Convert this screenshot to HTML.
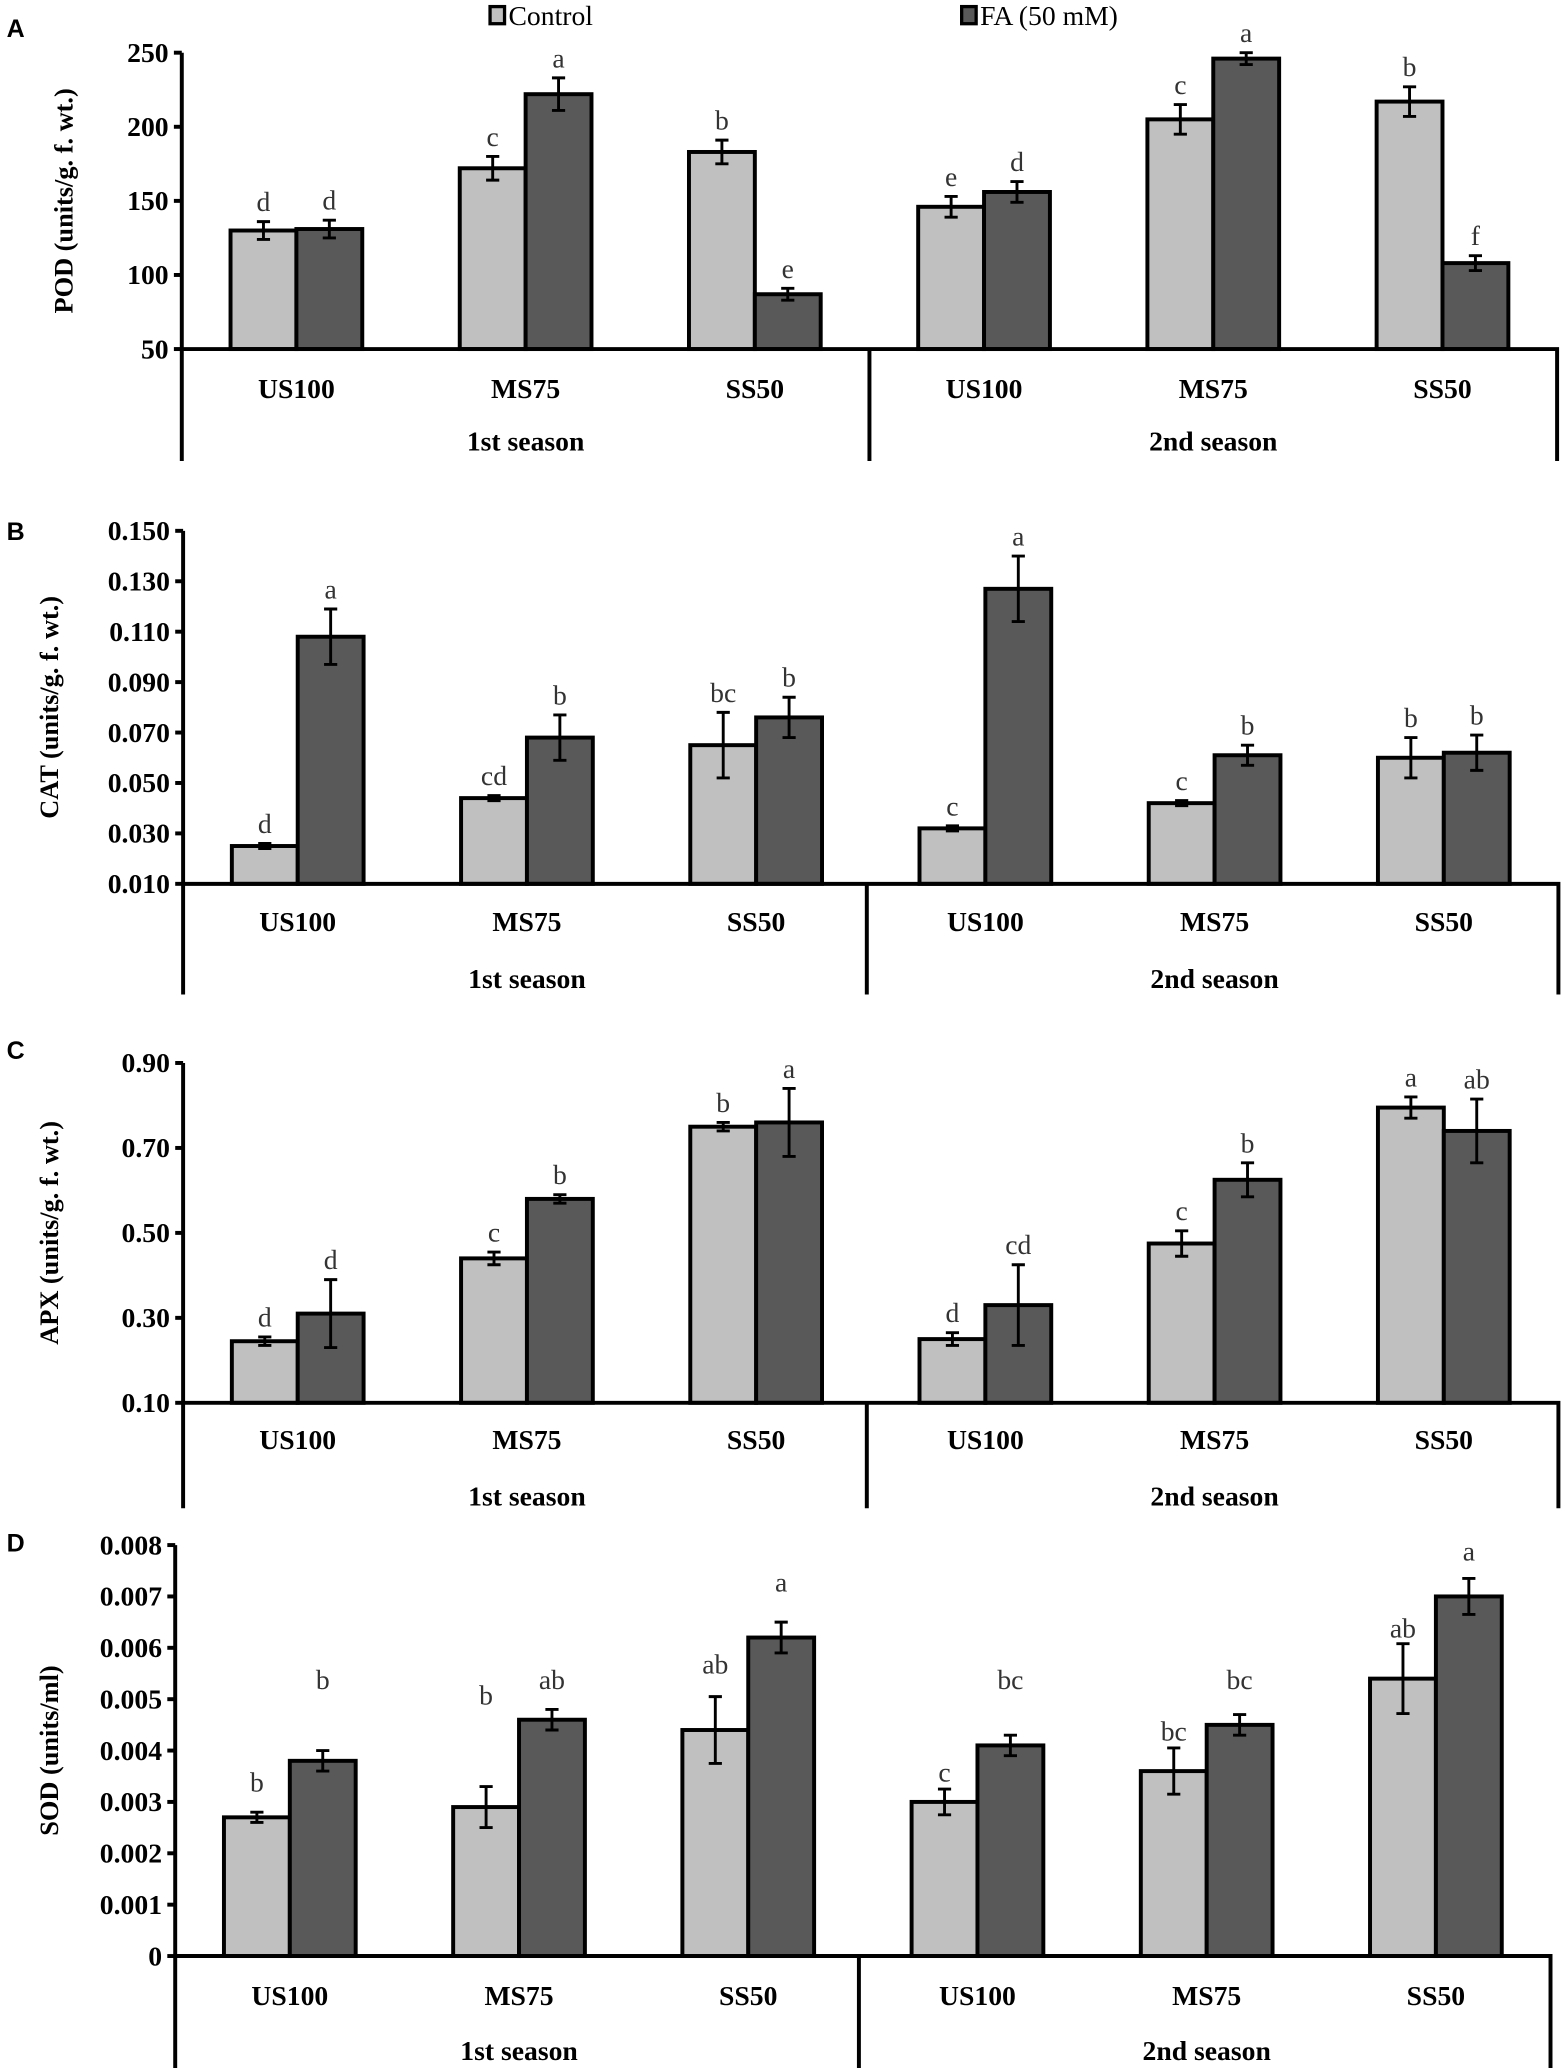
<!DOCTYPE html>
<html><head><meta charset="utf-8">
<style>
html,body{margin:0;padding:0;background:#fff;}
svg{display:block;}
text{font-family:"Liberation Serif",serif;}
</style></head>
<body>
<svg id="fig" width="1565" height="2068" viewBox="0 0 1188 1570" preserveAspectRatio="none" xmlns="http://www.w3.org/2000/svg">
<g>
  <rect x="372" y="5" width="11" height="13" fill="#c0c0c0" stroke="#000" stroke-width="2.5"/>
  <text x="386" y="19" font-size="21">Control</text>
  <rect x="730" y="5" width="11" height="13" fill="#595959" stroke="#000" stroke-width="2.5"/>
  <text x="744" y="19" font-size="21">FA (50 mM)</text>
</g>
</svg>
<script>
const categories = ["US100","MS75","SS50","US100","MS75","SS50"];
const seasons = ["1st season","2nd season"];

const podControl = [130,172,183,146,205,217];
const podFA = [131,222,87,156,246,108];
const podErrC = [6,8,8,7,10,10];
const podErrF = [6,11,4,7,4,5];
const podLetC = ["d","c","b","e","c","b"];
const podLetF = ["d","a","e","d","a","f"];
const podTicks = [50,100,150,200,250];

const catControl = [0.025,0.044,0.065,0.032,0.042,0.060];
const catFA = [0.108,0.068,0.076,0.127,0.061,0.062];
const catErrC = [0.001,0.001,0.013,0.001,0.001,0.008];
const catErrF = [0.011,0.009,0.008,0.013,0.004,0.007];
const catLetC = ["d","cd","bc","c","c","b"];
const catLetF = ["a","b","b","a","b","b"];
const catTicks = [0.010,0.030,0.050,0.070,0.090,0.110,0.130,0.150];

const apxControl = [0.245,0.44,0.75,0.25,0.475,0.795];
const apxFA = [0.31,0.58,0.76,0.33,0.625,0.74];
const apxErrC = [0.01,0.015,0.01,0.015,0.03,0.025];
const apxErrF = [0.08,0.01,0.08,0.095,0.04,0.075];
const apxLetC = ["d","c","b","d","c","a"];
const apxLetF = ["d","b","a","cd","b","ab"];
const apxTicks = [0.10,0.30,0.50,0.70,0.90];

const sodControl = [0.0027,0.0029,0.0044,0.0030,0.0036,0.0054];
const sodFA = [0.0038,0.0046,0.0062,0.0041,0.0045,0.0070];
const sodErrC = [0.0001,0.0004,0.00065,0.00025,0.00045,0.00068];
const sodErrF = [0.0002,0.0002,0.0003,0.0002,0.0002,0.00035];
const sodLetC = ["b","b","ab","c","bc","ab"];
const sodLetF = ["b","ab","a","bc","bc","a"];
const sodLetPosC = [0.0032,0.0049,0.0055,0.0034,0.0042,0.0062];
const sodLetPosF = [0.0052,0.0052,0.0071,0.0052,0.0052,0.0077];
const sodTicks = [0,0.001,0.002,0.003,0.004,0.005,0.006,0.007,0.008];

const NS="http://www.w3.org/2000/svg";
const svg=document.getElementById('fig');
function mk(tag,attrs,parent){const e=document.createElementNS(NS,tag);for(const k in attrs)e.setAttribute(k,attrs[k]);(parent||svg).appendChild(e);return e;}

const panels=[
 {key:"a",letter:"A",ly:28,title:"POD  (units/g. f. wt.)",tx:55,ax:138,yTop:40,yBot:265,min:50,max:250,ticks:podTicks,fmt:v=>String(v),c:podControl,f:podFA,ec:podErrC,ef:podErrF,lc:podLetC,lf:podLetF,sep:660,catY:302,seasY:342,bottom:350},
 {key:"b",letter:"B",ly:410,title:"CAT (units/g. f. wt.)",tx:44,ax:139,yTop:403,yBot:671,min:0.010,max:0.150,ticks:catTicks,fmt:v=>v.toFixed(3),c:catControl,f:catFA,ec:catErrC,ef:catErrF,lc:catLetC,lf:catLetF,sep:658,catY:707,seasY:750,bottom:755},
 {key:"c",letter:"C",ly:804,title:"APX (units/g. f. wt.)",tx:44,ax:139,yTop:807,yBot:1065,min:0.10,max:0.90,ticks:apxTicks,fmt:v=>v.toFixed(2),c:apxControl,f:apxFA,ec:apxErrC,ef:apxErrF,lc:apxLetC,lf:apxLetF,sep:658,catY:1100,seasY:1143,bottom:1145},
 {key:"d",letter:"D",ly:1178,title:"SOD  (units/ml)",tx:44,ax:133,yTop:1173,yBot:1485,min:0,max:0.008,ticks:sodTicks,fmt:v=>String(v),c:sodControl,f:sodFA,ec:sodErrC,ef:sodErrF,lc:sodLetC,lf:sodLetF,lpc:sodLetPosC,lpf:sodLetPosF,sep:652,catY:1522,seasY:1564,bottom:1570}
];

panels.forEach(p=>{
  const g=mk('g',{});
  
  
  const y=v=>p.yBot-(v-p.min)/(p.max-p.min)*(p.yBot-p.yTop);
  const step=174, bw=50;
  const xEnd=p.ax+step*6;
  const cx=i=>p.ax+step/2+step*i;
  const pl=mk('text',{x:5,y:p.ly,'font-size':19,'font-weight':'bold',style:'font-family:"Liberation Sans",sans-serif'},g);pl.textContent=p.letter;
  
  
  const yt=mk('text',{x:p.tx,y:(p.yTop+p.yBot)/2,'font-size':20,'font-weight':'bold','text-anchor':'middle',transform:`rotate(-90 ${p.tx} ${(p.yTop+p.yBot)/2})`},g);yt.textContent=p.title;
  
  
  p.ticks.forEach(t=>{
    const ty=y(t);
    const tk=mk('line',{x1:p.ax-6,x2:p.ax,y1:ty,y2:ty,stroke:'#000','stroke-width':3},g);
    
    
    const tl=mk('text',{x:p.ax-10,y:ty+7,'font-size':21,'font-weight':'bold','text-anchor':'end'},g);tl.textContent=p.fmt(t);
    
    
  });
  for(let i=0;i<6;i++){
    [[p.c,p.ec,p.lc,p.lpc,'#c0c0c0',-bw,'control'],[p.f,p.ef,p.lf,p.lpf,'#595959',0,'fa']].forEach(([vals,errs,lets,lpos,fill,off,nm])=>{
      const x0=cx(i)+off, top=y(vals[i]);
      const r=mk('rect',{x:x0,y:top,width:bw,height:p.yBot-top,fill:fill,stroke:'#000','stroke-width':3},g);
      
      
      const xm=x0+bw/2, e1=y(vals[i]+errs[i]), e2=y(vals[i]-errs[i]);
      const eb=mk('path',{d:`M${xm},${e1}V${e2}M${xm-5},${e1}H${xm+5}M${xm-5},${e2}H${xm+5}`,stroke:'#000','stroke-width':2.2,fill:'none'},g);
      
      
      const ly=lpos?y(lpos[i]):e1-8;
      const lt=mk('text',{x:xm,y:ly,'font-size':21,'text-anchor':'middle',fill:'#333'},g);lt.textContent=lets[i];
      
      
    });
    const cl=mk('text',{x:cx(i),y:p.catY,'font-size':21,'font-weight':'bold','text-anchor':'middle'},g);cl.textContent=categories[i];
    
    
  }
  const ax=mk('path',{d:`M${p.ax},${p.yTop}V${p.bottom}M${p.ax},${p.yBot}H${xEnd}V${p.bottom}M${p.sep},${p.yBot}V${p.bottom}`,stroke:'#000','stroke-width':3,fill:'none'},g);
  
  
  [0,1].forEach(s=>{
    const st=mk('text',{x:p.ax+step*1.5+step*3*s,y:p.seasY,'font-size':21,'font-weight':'bold','text-anchor':'middle'},g);st.textContent=seasons[s];
    
    
  });
});
</script>
</body></html>
